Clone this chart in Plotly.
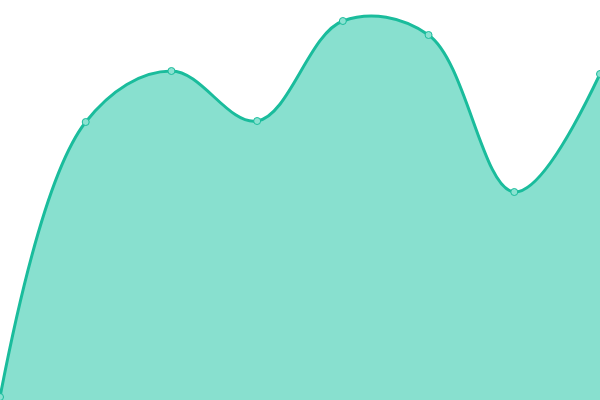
import plotly.graph_objects as go

# Data
x_vals = [0, 1, 2, 3, 4, 5, 6, 7]
y_vals = [3, 278, 329, 279, 379, 365, 208, 326]

fig = go.Figure()
fig.add_trace(go.Scatter(
    x=x_vals,
    y=y_vals,
    mode="lines+markers",
    line=dict(color="#1abc9c", width=3, shape="spline", smoothing=1.05),
    marker=dict(size=7, color="#8ae2d1", line=dict(color="#1abc9c", width=1)),
    fill="tozeroy",
    fillcolor="#88e0cf",
    cliponaxis=False,
    hoverinfo="skip",
))

fig.update_layout(
    width=600,
    height=400,
    margin=dict(l=0, r=0, t=0, b=0),
    paper_bgcolor="white",
    plot_bgcolor="white",
    showlegend=False,
)
fig.update_xaxes(visible=False, range=[0, 7])
fig.update_yaxes(visible=False, range=[0, 400])

# drop the page's default body margin so the plot fills the window
fig.write_html(
    "out.html",
    config={"displayModeBar": False},
    post_script="document.body.style.margin='0';",
)
